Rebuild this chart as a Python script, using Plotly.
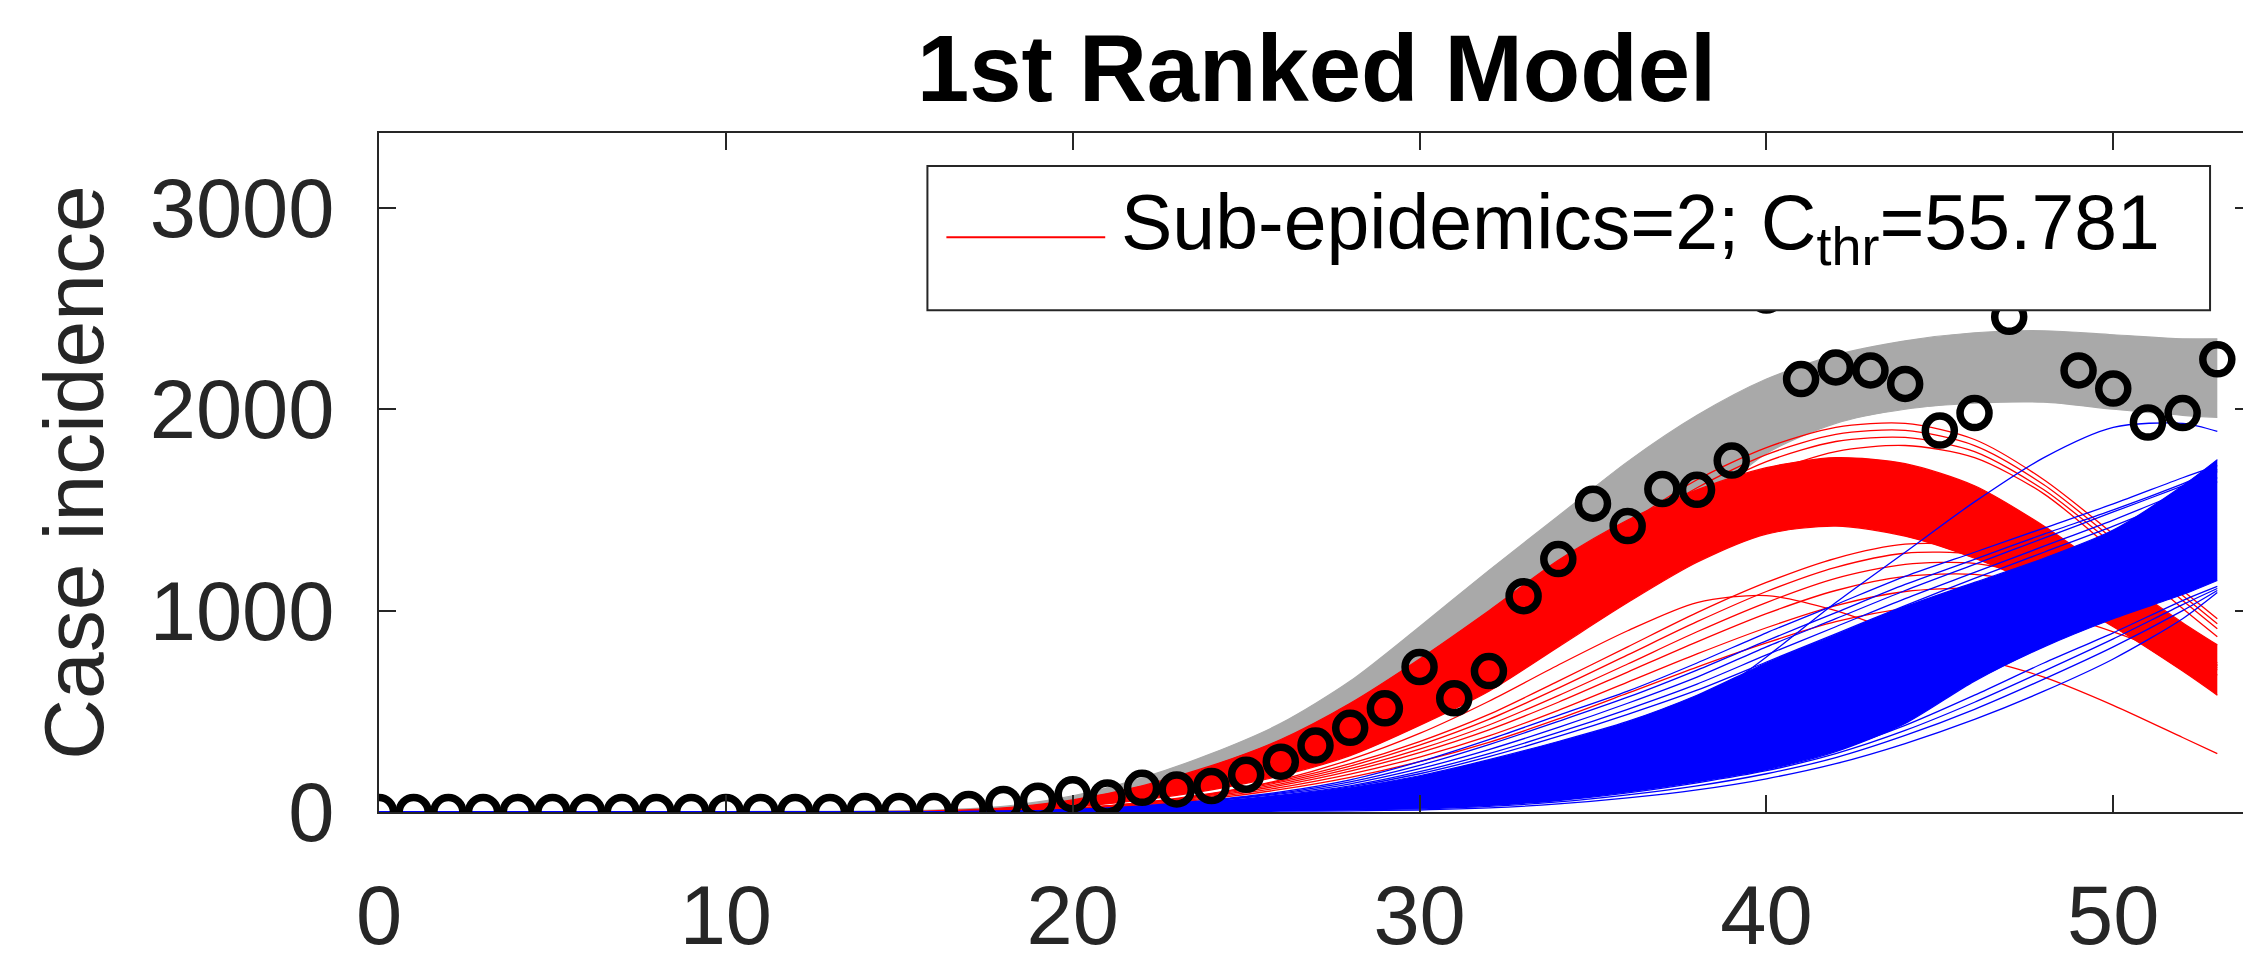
import plotly.graph_objects as go

# ---------------- data ----------------
obs_days = list(range(54))
obs_cases = [0, 0, 0, 0, 0, 0, 0, 0, 0, 0, 0, 0, 0, 0, 5, 5, 5, 15,
             40, 56, 88, 72, 120, 112, 129, 185, 250, 330, 418, 515,
             720, 565, 700, 1072, 1256, 1531, 1420, 1604, 1600, 1745,
             2565, 2150, 2208, 2193, 2126, 1894, 1981, 2459, 2750, 2193,
             2103, 1934, 1981, 2248]

knot_days = [0, 10, 16, 18, 20, 22, 24, 26, 28, 30, 32, 34, 36, 38, 40, 42, 44, 46, 48, 50, 52, 53]

# ensemble of total fits (grey band)
gray_lo = [0, 0, 3, 10, 35, 80, 140, 220, 340, 500, 700, 930, 1200, 1500, 1780, 1930, 2000, 2030, 2035, 2000, 1970, 1960]
gray_hi = [0, 2, 10, 28, 80, 170, 290, 440, 650, 920, 1200, 1470, 1740, 1970, 2150, 2270, 2340, 2380, 2390, 2370, 2350, 2350]

# first sub-epidemic (red): dense core and individual curves
red_lo = [0, 0, 2, 8, 25, 60, 110, 180, 280, 430, 600, 820, 1040, 1240, 1380, 1420, 1370, 1260, 1110, 920, 700, 580]
red_hi = [0, 1, 6, 20, 60, 130, 230, 360, 540, 760, 1000, 1250, 1450, 1600, 1710, 1760, 1730, 1620, 1420, 1180, 940, 830]
red_upper = [
    [0, 0, 2, 8, 30, 75, 150, 260, 420, 640, 900, 1170, 1430, 1650, 1810, 1910, 1930, 1850, 1650, 1380, 1100, 960],
    [0, 0, 2, 8, 29, 72, 144, 250, 405, 618, 870, 1135, 1390, 1610, 1775, 1875, 1895, 1820, 1625, 1355, 1075, 935],
    [0, 0, 2, 8, 28, 70, 140, 245, 395, 600, 850, 1110, 1360, 1570, 1740, 1840, 1860, 1790, 1600, 1330, 1050, 910],
    [0, 0, 2, 8, 27, 66, 133, 232, 375, 570, 810, 1060, 1300, 1510, 1680, 1790, 1820, 1760, 1580, 1300, 1010, 870],
]
red_lower = [
    [0, 0, 1, 5, 19, 47, 92, 155, 240, 350, 485, 650, 820, 990, 1140, 1260, 1330, 1320, 1230, 1060, 850, 740],
    [0, 0, 1, 5, 18, 45, 88, 148, 228, 332, 460, 615, 780, 945, 1095, 1215, 1285, 1280, 1195, 1040, 840, 730],
    [0, 0, 1, 5, 17, 43, 84, 140, 215, 312, 432, 578, 735, 895, 1040, 1160, 1230, 1235, 1160, 1020, 835, 725],
    [0, 0, 1, 4, 16, 40, 79, 132, 203, 295, 408, 545, 695, 845, 985, 1100, 1170, 1180, 1120, 990, 820, 715],
    [0, 0, 1, 4, 15, 37, 73, 122, 188, 273, 378, 505, 645, 785, 915, 1025, 1095, 1110, 1065, 950, 800, 705],
    [0, 0, 1, 4, 14, 34, 67, 112, 172, 250, 346, 462, 590, 720, 840, 945, 1010, 1030, 995, 895, 760, 680],
    [0, 0, 1, 5, 18, 45, 90, 160, 260, 390, 550, 730, 900, 1040, 1075, 1000, 880, 770, 670, 530, 370, 290],
]

# second sub-epidemic (blue): dense core and individual curves
blue_lo = [0, 0, 0, 0, 1, 3, 6, 10, 15, 20, 35, 60, 100, 150, 210, 300, 440, 650, 820, 960, 1080, 1150]
blue_hi = [0, 0, 1, 3, 10, 25, 50, 80, 120, 180, 260, 350, 450, 580, 740, 880, 1020, 1140, 1260, 1400, 1620, 1750]
blue_upper = [
    [0, 0, 1, 3, 12, 30, 60, 100, 160, 250, 360, 480, 600, 740, 890, 1030, 1170, 1290, 1410, 1530, 1660, 1720],
    [0, 0, 1, 3, 11, 28, 57, 95, 150, 232, 335, 450, 570, 705, 850, 990, 1130, 1255, 1380, 1500, 1630, 1700],
    [0, 0, 1, 3, 11, 27, 55, 90, 140, 215, 310, 420, 540, 670, 820, 960, 1100, 1230, 1360, 1490, 1620, 1690],
    [0, 0, 1, 3, 10, 25, 51, 84, 130, 200, 290, 395, 510, 635, 780, 920, 1060, 1190, 1320, 1450, 1590, 1660],
    [0, 0, 1, 3, 10, 24, 48, 80, 125, 190, 275, 375, 485, 605, 745, 885, 1025, 1160, 1290, 1420, 1560, 1640],
    [0, 0, 0, 1, 3, 8, 15, 25, 40, 65, 110, 190, 320, 520, 770, 1040, 1290, 1540, 1760, 1910, 1930, 1890],
]
blue_lower = [
    [0, 0, 0, 0, 0, 1, 2, 4, 6, 10, 20, 40, 70, 110, 165, 240, 340, 460, 600, 760, 960, 1090],
    [0, 0, 0, 0, 1, 2, 4, 7, 11, 16, 28, 50, 85, 130, 190, 270, 380, 510, 660, 820, 1000, 1100],
    [0, 0, 0, 0, 1, 2, 4, 8, 13, 20, 33, 57, 95, 145, 205, 290, 405, 545, 700, 860, 1030, 1110],
    [0, 0, 0, 0, 1, 3, 5, 9, 14, 22, 36, 62, 102, 155, 220, 310, 430, 580, 740, 890, 1050, 1120],
]

title_text = "1st Ranked Model"
y_label = "Case incidence"
legend_text = "Sub-epidemics=2; C<sub>thr</sub>=55.781"
x_ticks = [0, 10, 20, 30, 40, 50]
y_ticks = [0, 1000, 2000, 3000]

# ---------------- layout geometry ----------------
W, H = 2251, 959
L, R, T, B = 371, 2246, 125, 822
X_RANGE = [0, 54]
Y_RANGE = [0, 3372]


def px(xp):
    return (xp - L) / (R - L)


def py(yp):
    return (B - yp) / (B - T)


GRAY = "#A9A9A9"
RED = "#FF0000"
BLUE = "#0000FF"
FONT = "Liberation Sans, Arial, Helvetica, sans-serif"

fig = go.Figure()


def band(lo, hi, color):
    fig.add_trace(go.Scatter(x=knot_days, y=lo, mode="lines",
                             line=dict(color=color, width=1.2, shape="spline", smoothing=0.8),
                             showlegend=False, hoverinfo="skip"))
    fig.add_trace(go.Scatter(x=knot_days, y=hi, mode="lines", fill="tonexty", fillcolor=color,
                             line=dict(color=color, width=1.2, shape="spline", smoothing=0.8),
                             showlegend=False, hoverinfo="skip"))


def curves(cs, color):
    for c in cs:
        fig.add_trace(go.Scatter(x=knot_days, y=c, mode="lines",
                                 line=dict(color=color, width=1.3, shape="spline", smoothing=0.8),
                                 showlegend=False, hoverinfo="skip"))


band(gray_lo, gray_hi, GRAY)
band(red_lo, red_hi, RED)
curves(red_upper, RED)
curves(red_lower, RED)
band(blue_lo, blue_hi, BLUE)
curves(blue_upper, BLUE)
curves(blue_lower, BLUE)

fig.add_trace(go.Scatter(x=obs_days, y=obs_cases, mode="markers",
                         marker=dict(symbol="circle-open", size=29, color="black",
                                     line=dict(color="black", width=7.5)),
                         showlegend=False, hoverinfo="skip"))

# legend box drawn manually (MATLAB style)
shapes = [
    dict(type="rect", xref="paper", yref="paper", x0=px(920), x1=px(2204), y0=py(307), y1=py(159),
         fillcolor="white", line=dict(color="#262626", width=2), layer="above"),
    dict(type="line", xref="paper", yref="paper", x0=px(939), x1=px(1098), y0=py(232), y1=py(232),
         line=dict(color=RED, width=2), layer="above"),
]
annotations = [
    dict(xref="paper", yref="paper", x=px(1112), y=py(222), xanchor="left", yanchor="middle",
         text=legend_text, showarrow=False, font=dict(family=FONT, size=77, color="black")),
]

axis_common = dict(showgrid=False, zeroline=False, showline=True, linecolor="#262626", linewidth=2,
                   ticks="inside", ticklen=17, tickwidth=2, tickcolor="#262626", mirror="ticks",
                   tickfont=dict(family=FONT, size=83, color="#262626"))

fig.update_layout(
    width=W, height=H, autosize=False,
    margin=dict(l=L, r=W - R, t=T, b=H - B, pad=0),
    paper_bgcolor="white", plot_bgcolor="white",
    title=dict(text=title_text, x=(L + R) / 2 / W, xanchor="center",
               yref="container", y=1 - 60 / H, yanchor="middle",
               font=dict(family=FONT, size=94, color="black", weight="bold")),
    xaxis=dict(range=X_RANGE, tickvals=x_ticks, ticklabelstandoff=30, **axis_common),
    yaxis=dict(range=Y_RANGE, tickvals=y_ticks, ticklabelstandoff=26,
               title=dict(text=y_label, standoff=18, font=dict(family=FONT, size=84, color="#262626")),
               **axis_common),
    shapes=shapes, annotations=annotations,
)

fig.write_html("out.html")
